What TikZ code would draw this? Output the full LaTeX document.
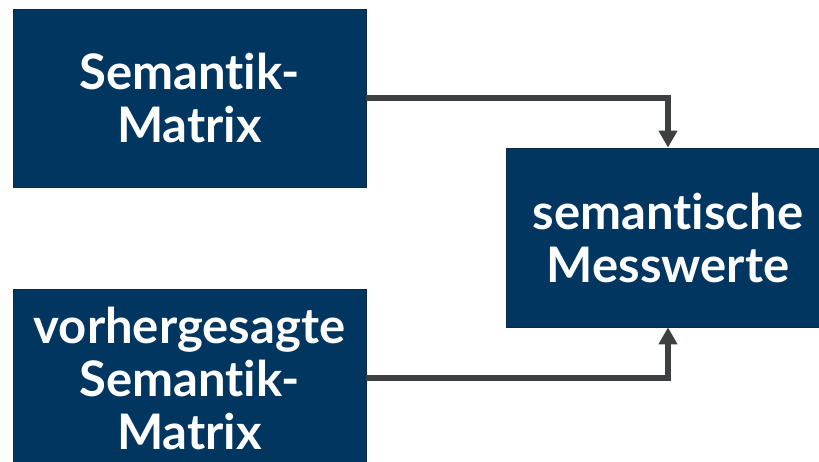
\documentclass[tikz,border=0pt]{standalone}
\usepackage{fontspec}
\setmainfont{Lato}[RawFeature={-liga;-dlig;-clig}]
\usetikzlibrary{arrows.meta}
\definecolor{boxblue}{HTML}{003660}
\definecolor{boxedge}{HTML}{0A2A48}
\definecolor{linkgray}{HTML}{3C4040}
\tikzset{
  block/.style={draw=boxedge, line width=0.8pt, fill=boxblue, text=white,
    align=center, inner sep=0pt,
    font=\fontsize{49}{53}\selectfont\bfseries},
  link/.style={draw=linkgray, line width=6pt,
    -{Triangle[width=18pt,length=17pt]}}
}
\begin{document}
\begin{tikzpicture}[x=1pt,y=-1pt]
  \useasboundingbox (0,0) rectangle (819,462);
  \node[block, minimum width=353pt, minimum height=178pt] (sm) at (189.5,98) {Semantik-\\Matrix};
  \node[block, minimum width=353pt, minimum height=178pt] (vs) at (189.5,378) {vorhergesagte\\Semantik-\\Matrix};
  \node[block, minimum width=324pt, minimum height=179pt] (mw) at (668,237.5) {semantische\\Messwerte};
  \draw[link] (sm.east) -| (mw.north);
  \draw[link] (vs.east) -| (mw.south);
\end{tikzpicture}
\end{document}
